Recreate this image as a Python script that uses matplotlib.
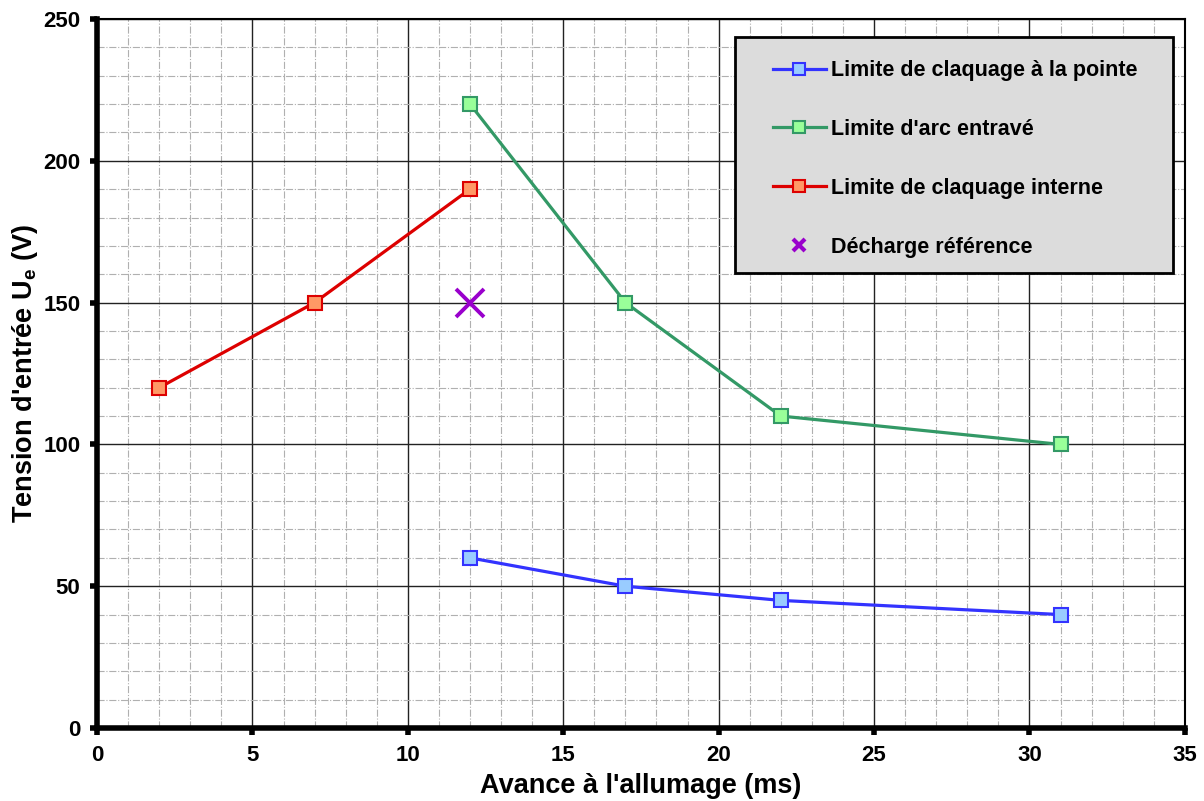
import matplotlib.pyplot as plt
from matplotlib.ticker import MultipleLocator
from matplotlib.patches import Rectangle

plt.rcParams['font.family'] = ['Liberation Sans', 'DejaVu Sans']
plt.rcParams['font.weight'] = 'bold'
plt.rcParams['mathtext.fontset'] = 'custom'
plt.rcParams['mathtext.bf'] = 'Liberation Sans:bold'
plt.rcParams['mathtext.rm'] = 'Liberation Sans:bold'

# data
x_pointe = [12, 17, 22, 31]
y_pointe = [60, 50, 45, 40]
x_arc = [12, 17, 22, 31]
y_arc = [220, 150, 110, 100]
x_interne = [2, 7, 12]
y_interne = [120, 150, 190]
x_ref = [12]
y_ref = [150]

fig = plt.figure(figsize=(12.04, 8.01), dpi=100)
ax = fig.add_axes([0.0806, 0.0911, 0.9035, 0.8852])

ax.plot(x_pointe, y_pointe, color='#3333ff', lw=2.3, marker='s', ms=10,
        mfc='#99ccff', mec='#3333ff', mew=1.5, label='Limite de claquage à la pointe', zorder=3)
ax.plot(x_arc, y_arc, color='#339966', lw=2.3, marker='s', ms=10,
        mfc='#99ff99', mec='#339966', mew=1.5, label="Limite d'arc entravé", zorder=3)
ax.plot(x_interne, y_interne, color='#dd0000', lw=2.3, marker='s', ms=10,
        mfc='#ff9966', mec='#dd0000', mew=1.5, label='Limite de claquage interne', zorder=3)
ax.plot(x_ref, y_ref, ls='none', marker='x', ms=20, mew=2.8, color='#9900cc',
        label='Décharge référence', zorder=3)

ax.set_xlim(0, 35)
ax.set_ylim(0, 250)
ax.xaxis.set_major_locator(MultipleLocator(5))
ax.xaxis.set_minor_locator(MultipleLocator(1))
ax.yaxis.set_major_locator(MultipleLocator(50))
ax.yaxis.set_minor_locator(MultipleLocator(10))

ax.grid(which='major', color='#222222', lw=1, ls='-', zorder=1)
ax.grid(which='minor', color='#b0b0b0', lw=0.8, ls='-.', zorder=1)
ax.set_axisbelow(True)

for s in ['top', 'right']:
    ax.spines[s].set_linewidth(1.5)
for s in ['left', 'bottom']:
    ax.spines[s].set_linewidth(4)
ax.tick_params(which='major', direction='out', length=5, width=4, labelsize=16, pad=7)
ax.tick_params(which='minor', length=0)

ax.set_xlabel("Avance à l'allumage (ms)", fontsize=19.5, fontweight='bold', labelpad=5)
ax.set_ylabel("Tension d'entrée U$_\\mathbf{e}$ (V)", fontsize=19.5, fontweight='bold', labelpad=2)

# legend box drawn separately
box = Rectangle((0.586, 0.642), 0.403, 0.333, transform=ax.transAxes,
                facecolor='#dcdcdc', edgecolor='black', lw=2, zorder=4)
ax.add_patch(box)

leg = ax.legend(loc='upper left', bbox_to_anchor=(0.621, 0.942), fontsize=15.5,
                frameon=False, borderpad=0, labelspacing=1.76, handlelength=2.5,
                handletextpad=0.2, borderaxespad=0)
leg.set_zorder(5)
leg.legend_handles[3].set_markersize(9)
leg.legend_handles[3].set_markeredgewidth(3)
for h in leg.legend_handles[:3]:
    h.set_markersize(9)
for t in leg.get_texts():
    t.set_fontweight('bold')

fig.savefig('out.png', dpi=100)
